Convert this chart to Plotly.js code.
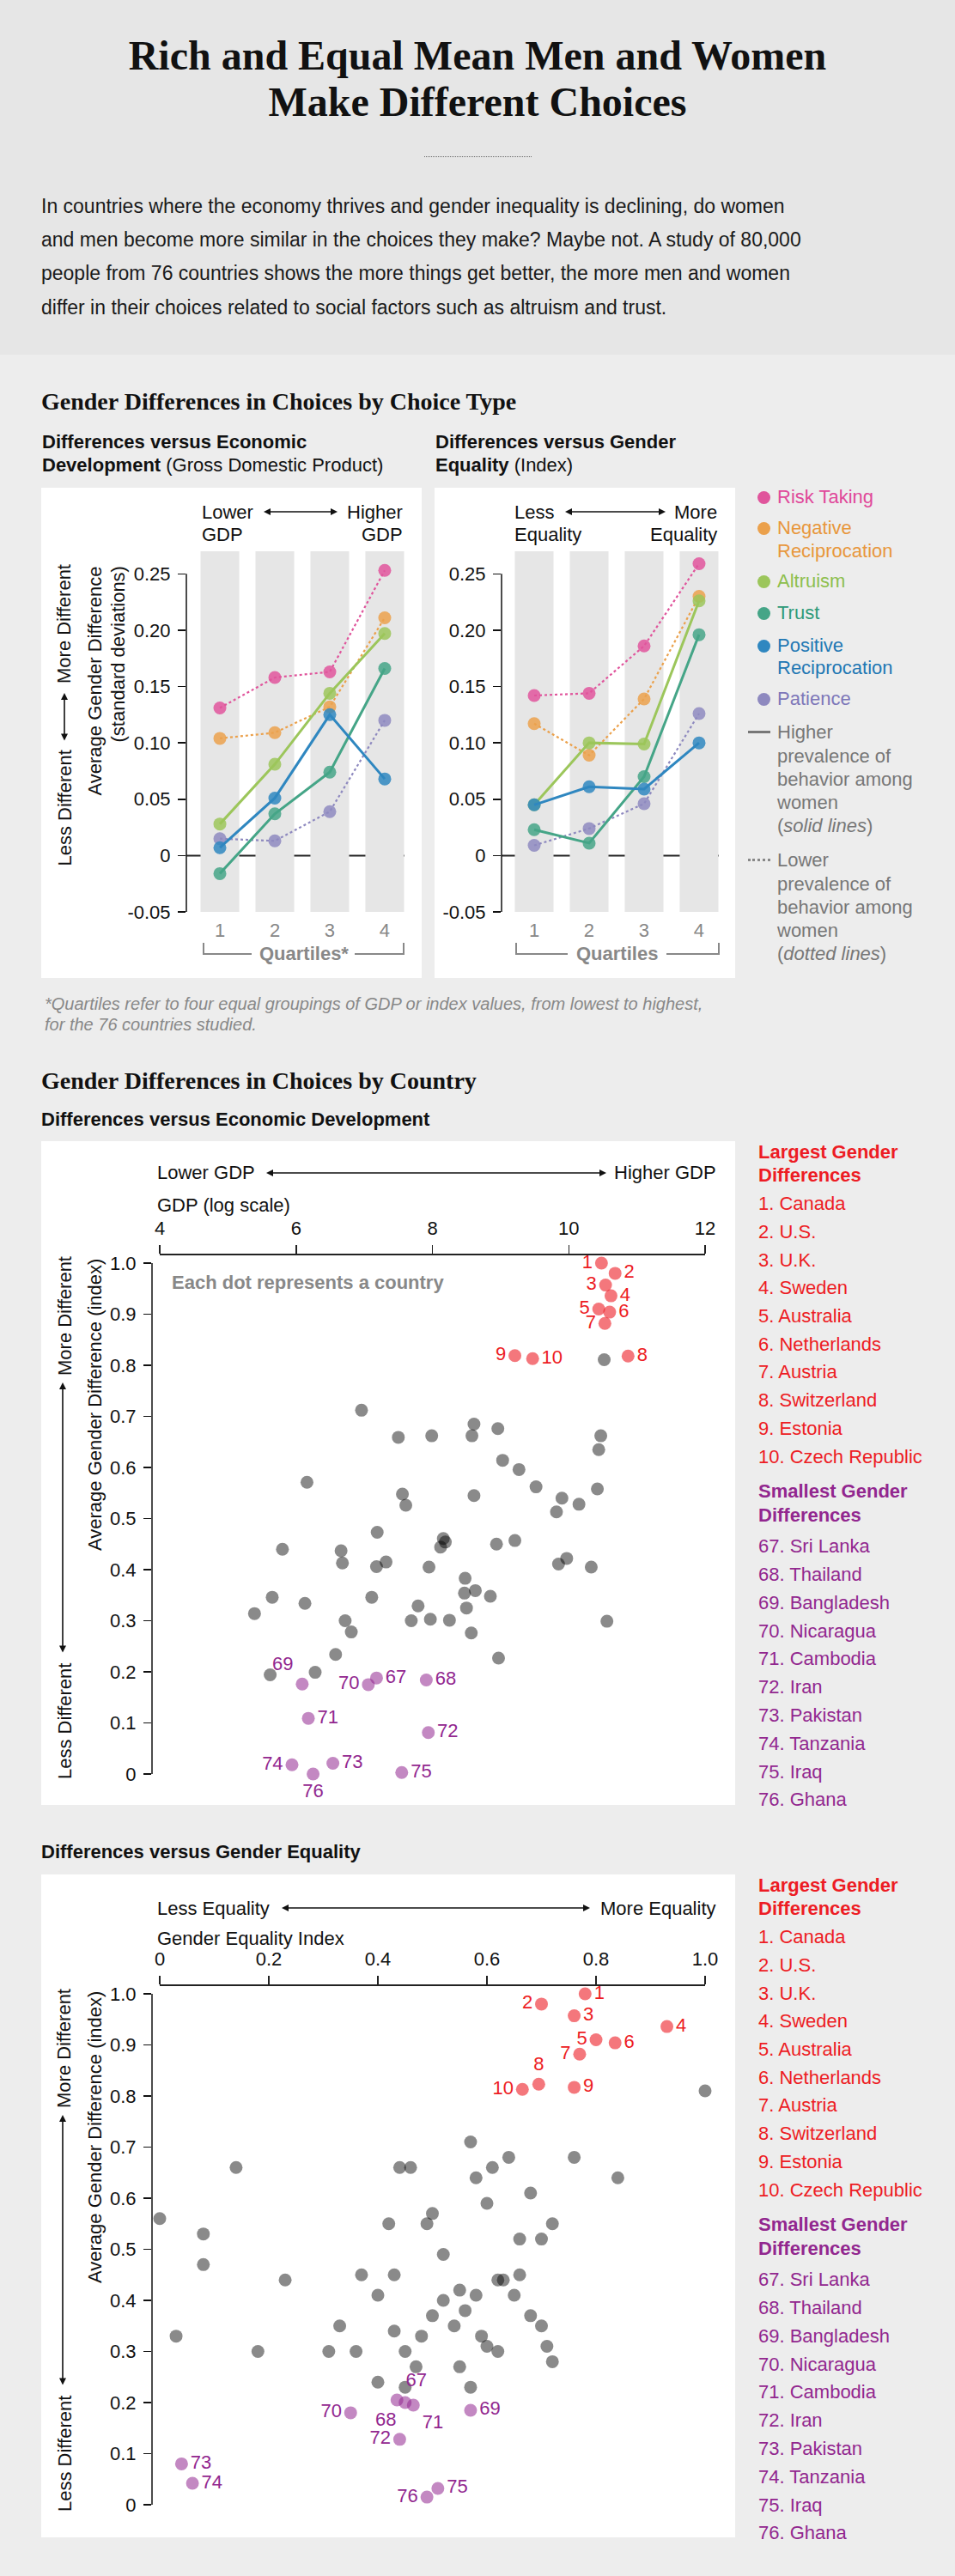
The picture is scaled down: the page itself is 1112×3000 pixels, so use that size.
<!DOCTYPE html>
<html>
<head>
<meta charset="utf-8">
<script src="https://cdn.plot.ly/plotly-3.0.1.min.js"></script>
<style>
html,body{margin:0;padding:0;}
body{width:1112px;height:3000px;background:#ededed;position:relative;overflow:hidden;font-family:"Liberation Sans",Arial,sans-serif;}
.abs{position:absolute;white-space:nowrap;}
.chart{position:absolute;}
</style>
</head>
<body>
<div class="abs" style="left:0;top:0;width:1112px;height:413px;background:#e6e6e6"></div>
<div class="abs" style="left:494px;top:182px;width:125px;height:0;border-top:1px dotted #666"></div>
<div id="q1" class="chart"></div>
<div id="q2" class="chart"></div>
<div id="s1" class="chart"></div>
<div id="s2" class="chart"></div>
<script>
// ================= DATA =================
const quartiles = [1, 2, 3, 4];
const quartileTickText = ['1', '2', '3', '4'];
const choiceTypes = ['Risk Taking', 'Negative Reciprocation', 'Altruism', 'Trust', 'Positive Reciprocation', 'Patience'];

// Differences versus Economic Development (GDP quartiles)
const gdpRiskTaking = [0.131, 0.158, 0.163, 0.253];
const gdpNegativeReciprocation = [0.104, 0.109, 0.132, 0.211];
const gdpAltruism = [0.028, 0.081, 0.144, 0.197];
const gdpTrust = [-0.016, 0.037, 0.074, 0.166];
const gdpPositiveReciprocation = [0.007, 0.051, 0.125, 0.068];
const gdpPatience = [0.015, 0.013, 0.039, 0.120];

// Differences versus Gender Equality (index quartiles)
const eqRiskTaking = [0.142, 0.144, 0.186, 0.259];
const eqNegativeReciprocation = [0.117, 0.089, 0.139, 0.230];
const eqAltruism = [0.045, 0.100, 0.099, 0.226];
const eqTrust = [0.023, 0.011, 0.070, 0.196];
const eqPositiveReciprocation = [0.045, 0.061, 0.059, 0.100];
const eqPatience = [0.009, 0.024, 0.046, 0.126];

const quartileYTicks = [-0.05, 0, 0.05, 0.10, 0.15, 0.20, 0.25];
const quartileYTickText = ['-0.05', '0', '0.05', '0.10', '0.15', '0.20', '0.25'];

const gdpTicks = [4, 6, 8, 10, 12];
const gdpTickText = ['4', '6', '8', '10', '12'];
const equalityTicks = [0, 0.2, 0.4, 0.6, 0.8, 1.0];
const equalityTickText = ['0', '0.2', '0.4', '0.6', '0.8', '1.0'];
const indexTicks = [0, 0.1, 0.2, 0.3, 0.4, 0.5, 0.6, 0.7, 0.8, 0.9, 1.0];
const indexTickText = ['0', '0.1', '0.2', '0.3', '0.4', '0.5', '0.6', '0.7', '0.8', '0.9', '1.0'];

const largestRanks = ['1', '2', '3', '4', '5', '6', '7', '8', '9', '10'];
const largestCountries = ['Canada', 'U.S.', 'U.K.', 'Sweden', 'Australia', 'Netherlands', 'Austria', 'Switzerland', 'Estonia', 'Czech Republic'];
const smallestRanks = ['67', '68', '69', '70', '71', '72', '73', '74', '75', '76'];
const smallestCountries = ['Sri Lanka', 'Thailand', 'Bangladesh', 'Nicaragua', 'Cambodia', 'Iran', 'Pakistan', 'Tanzania', 'Iraq', 'Ghana'];

// Country scatter: GDP (log scale) vs average gender difference
const gdpLargestX = [10.48, 10.68, 10.54, 10.62, 10.44, 10.60, 10.53, 10.87, 9.21, 9.47];
const gdpLargestY = [1.000, 0.980, 0.957, 0.936, 0.910, 0.904, 0.882, 0.818, 0.819, 0.813];
const gdpSmallestX = [7.18, 7.91, 6.09, 7.06, 6.18, 7.94, 6.54, 5.94, 7.55, 6.25];
const gdpSmallestY = [0.188, 0.184, 0.176, 0.175, 0.109, 0.081, 0.021, 0.018, 0.003, 0.000];
const gdpOtherX = [7.99, 8.61, 8.58, 8.96, 10.47, 10.44, 9.03, 9.27, 9.52, 9.90, 10.15, 9.82, 10.42, 8.61, 10.52,
  6.96, 7.50, 6.16, 7.56, 7.61,
  7.19, 5.80, 6.66, 6.68, 7.18, 7.32, 8.16, 8.19, 8.12, 7.95, 5.39, 5.65, 6.13, 7.11, 7.79, 6.72, 6.81, 7.69, 7.97, 8.25, 6.58, 5.62, 6.28,
  8.94, 9.21, 9.85, 9.97, 10.33, 8.48, 8.47, 8.63, 8.85, 8.50, 8.57, 8.97, 10.56];
const gdpOtherY = [0.662, 0.685, 0.662, 0.676, 0.662, 0.635, 0.614, 0.596, 0.562, 0.540, 0.528, 0.513, 0.558, 0.545, 0.811,
  0.712, 0.659, 0.571, 0.548, 0.526,
  0.473, 0.440, 0.437, 0.413, 0.406, 0.415, 0.461, 0.454, 0.444, 0.405, 0.314, 0.346, 0.334, 0.346, 0.329, 0.300, 0.278, 0.300, 0.303, 0.301, 0.234, 0.194, 0.199,
  0.450, 0.457, 0.411, 0.422, 0.405, 0.383, 0.354, 0.359, 0.348, 0.325, 0.276, 0.227, 0.299];

// Country scatter: gender equality index vs average gender difference
const eqLargestX = [0.78, 0.70, 0.76, 0.93, 0.80, 0.835, 0.77, 0.695, 0.76, 0.665];
const eqLargestY = [1.000, 0.980, 0.957, 0.936, 0.910, 0.904, 0.882, 0.823, 0.817, 0.813];
const eqSmallestX = [0.435, 0.45, 0.57, 0.35, 0.465, 0.44, 0.04, 0.06, 0.51, 0.49];
const eqSmallestY = [0.205, 0.200, 0.185, 0.180, 0.195, 0.128, 0.080, 0.042, 0.032, 0.015];
const eqOtherX = [0.00, 0.14, 0.08, 0.08, 0.03, 0.18, 0.23, 0.37, 0.40, 0.42, 0.44, 0.46, 0.49, 0.50, 0.52, 0.55, 0.57, 0.58, 0.60, 0.61,
  0.64, 0.66, 0.68, 0.70, 0.72, 0.76, 0.84, 0.33, 0.31, 0.36, 0.43, 0.45, 0.47, 0.48, 0.50, 0.52, 0.54, 0.56, 0.58, 0.59,
  0.60, 0.62, 0.63, 0.65, 0.68, 0.70, 0.72, 0.71, 0.45, 0.40, 0.55, 0.57, 0.62, 0.66, 0.43, 1.00];
const eqOtherY = [0.56, 0.66, 0.53, 0.47, 0.33, 0.30, 0.44, 0.45, 0.41, 0.55, 0.66, 0.66, 0.55, 0.57, 0.49, 0.42, 0.71, 0.64, 0.59, 0.66,
  0.68, 0.52, 0.61, 0.52, 0.55, 0.68, 0.64, 0.35, 0.30, 0.30, 0.34, 0.30, 0.27, 0.33, 0.37, 0.40, 0.35, 0.38, 0.41, 0.33,
  0.31, 0.30, 0.44, 0.41, 0.37, 0.35, 0.28, 0.31, 0.23, 0.24, 0.27, 0.23, 0.44, 0.45, 0.45, 0.81];

// ================= STYLES =================
const FONT = '"Liberation Sans", Arial, sans-serif';
const SERIF = '"Liberation Serif", "Times New Roman", serif';
const choiceColors = ['#e0559c', '#eba14c', '#9cc65b', '#45a587', '#2f87c0', '#8e89bf'];
const choiceTextColors = ['#e0489a', '#e8973c', '#8dbf4e', '#2f9a78', '#1f78b4', '#7d77b9'];
const choiceDash = ['dot', 'dot', 'solid', 'solid', 'solid', 'dot'];
const gdpLabelPos = ['middle left', 'middle right', 'middle left', 'middle right', 'middle left', 'middle right', 'middle left', 'middle right', 'middle left', 'middle right'];
const gdpSmallLabelPos = ['middle right', 'middle right', 'top left', 'middle left', 'middle right', 'middle right', 'middle right', 'middle left', 'middle right', 'bottom center'];
const eqLabelPos = ['middle right', 'middle left', 'middle right', 'middle right', 'middle left', 'middle right', 'middle left', 'top center', 'middle right', 'middle left'];
const eqSmallLabelPos = ['top right', 'bottom left', 'middle right', 'middle left', 'bottom right', 'middle left', 'middle right', 'middle right', 'middle right', 'middle left'];
const RED = '#ed1c24', PURPLE = '#92278f';

// ================= HTML TEXT =================
function T(x, center, html, o) {
  o = o || {};
  const fs = o.size || 22;
  const serif = !!o.serif;
  const lh = Math.round(fs * 1.2);
  const asc = serif ? 0.891 : 0.905, desc = serif ? 0.216 : 0.212;
  const baseOff = (lh - (asc + desc) * fs) / 2 + asc * fs;
  const baseline = (o.baseline !== undefined) ? o.baseline : center + 0.358 * fs;
  const d = document.createElement('div');
  d.className = 'abs';
  d.innerHTML = html;
  d.style.fontSize = fs + 'px';
  d.style.lineHeight = lh + 'px';
  d.style.fontFamily = serif ? SERIF : FONT;
  d.style.fontWeight = o.weight || 'normal';
  d.style.fontStyle = o.style || 'normal';
  d.style.color = o.color || '#111';
  d.style.top = (baseline - baseOff) + 'px';
  if (o.anchor === 'center') { d.style.left = x + 'px'; d.style.transform = 'translateX(-50%)'; }
  else if (o.anchor === 'right') { d.style.right = (1112 - x) + 'px'; }
  else d.style.left = x + 'px';
  document.body.appendChild(d);
  return d;
}
function dot(cx, cy, color, dia) {
  const d = document.createElement('div');
  d.className = 'abs';
  d.style.left = (cx - dia / 2) + 'px'; d.style.top = (cy - dia / 2) + 'px';
  d.style.width = dia + 'px'; d.style.height = dia + 'px';
  d.style.borderRadius = '50%'; d.style.background = color;
  document.body.appendChild(d);
}

// Header
T(556, 0, 'Rich and Equal Mean Men and Women', {size: 48, serif: true, weight: 'bold', baseline: 81, anchor: 'center', color: '#111'});
T(556, 0, 'Make Different Choices', {size: 48, serif: true, weight: 'bold', baseline: 135, anchor: 'center', color: '#111'});
const introLines = [
  'In countries where the economy thrives and gender inequality is declining, do women',
  'and men become more similar in the choices they make? Maybe not. A study of 80,000',
  'people from 76 countries shows the more things get better, the more men and women',
  'differ in their choices related to social factors such as altruism and trust.'
];
introLines.forEach((s, i) => T(48, 0, s, {size: 23, baseline: 248 + 39.2 * i, color: '#1a1a1a'}));

// Section 1
T(48, 0, 'Gender Differences in Choices by Choice Type', {size: 28, serif: true, weight: 'bold', baseline: 477});
T(49, 0, '<b>Differences versus Economic</b>', {baseline: 523});
T(49, 0, '<b>Development</b> (Gross Domestic Product)', {baseline: 550});
T(507, 0, '<b>Differences versus Gender</b>', {baseline: 523});
T(507, 0, '<b>Equality</b> (Index)', {baseline: 550});
T(52, 0, '*Quartiles refer to four equal groupings of GDP or index values, from lowest to highest,', {size: 20, style: 'italic', color: '#888', baseline: 1176});
T(52, 0, 'for the 76 countries studied.', {size: 20, style: 'italic', color: '#888', baseline: 1200});

// Legend of choice types
const legendRows = [[579], [615, 642], [677], [714], [752, 778], [814]];
const legendWords = [['Risk Taking'], ['Negative', 'Reciprocation'], ['Altruism'], ['Trust'], ['Positive', 'Reciprocation'], ['Patience']];
legendRows.forEach((rows, i) => {
  dot(889, rows[0], choiceColors[i], 15);
  rows.forEach((cy, j) => T(905, cy, legendWords[i][j], {color: choiceTextColors[i]}));
});
const lineA = document.createElement('div');
lineA.className = 'abs'; lineA.style.cssText += 'left:871px;top:851px;width:26px;height:3px;background:#777;';
document.body.appendChild(lineA);
const lineB = document.createElement('div');
lineB.className = 'abs'; lineB.style.cssText += 'left:871px;top:1000px;width:26px;height:0;border-top:3px dotted #888;';
document.body.appendChild(lineB);
['Higher', 'prevalence of', 'behavior among', 'women', '(<i>solid lines</i>)'].forEach((s, i) => T(905, 853 + 27.3 * i, s, {color: '#777'}));
['Lower', 'prevalence of', 'behavior among', 'women', '(<i>dotted lines</i>)'].forEach((s, i) => T(905, 1002 + 27.3 * i, s, {color: '#777'}));

// Section 2
T(48, 0, 'Gender Differences in Choices by Country', {size: 28, serif: true, weight: 'bold', baseline: 1268});
T(48, 0, '<b>Differences versus Economic Development</b>', {baseline: 1312});
T(48, 0, '<b>Differences versus Gender Equality</b>', {baseline: 2165});

function countryLegend(off) {
  T(883, 1342 + off, '<b>Largest Gender</b>', {color: RED});
  T(883, 1369 + off, '<b>Differences</b>', {color: RED});
  largestCountries.forEach((c, i) => T(883, 1402 + 32.7 * i + off, largestRanks[i] + '. ' + c, {color: RED}));
  T(883, 1737 + off, '<b>Smallest Gender</b>', {color: PURPLE});
  T(883, 1765 + off, '<b>Differences</b>', {color: PURPLE});
  smallestCountries.forEach((c, i) => T(883, 1801 + 32.8 * i + off, smallestRanks[i] + '. ' + c, {color: PURPLE}));
}
countryLegend(0);
countryLegend(854);

// ================= PLOTLY HELPERS =================
const Q1 = {left: 48, top: 568, width: 443, height: 571, x0: 217, x1: 471, y0: 642, y1: 1062};
const Q2 = {left: 506, top: 568, width: 350, height: 571, x0: 584, x1: 837, y0: 642, y1: 1062};
const S1 = {left: 48, top: 1329, width: 808, height: 773, x0: 177, x1: 835, y0: 1461, y1: 2080};
const S2 = {left: 48, top: 2183, width: 808, height: 772, x0: 177, x1: 835, y0: 2312, y1: 2931};
const PX = (b, x) => (x - b.x0) / (b.x1 - b.x0);
const PY = (b, y) => (b.y1 - y) / (b.y1 - b.y0);

function place(id, b) {
  const el = document.getElementById(id);
  el.style.left = b.left + 'px'; el.style.top = b.top + 'px';
  el.style.width = b.width + 'px'; el.style.height = b.height + 'px';
  return el;
}
function baseLayout(b) {
  return {
    width: b.width, height: b.height, autosize: false,
    margin: {l: b.x0 - b.left, r: b.left + b.width - b.x1, t: b.y0 - b.top, b: b.top + b.height - b.y1, pad: 0},
    paper_bgcolor: '#ffffff', plot_bgcolor: '#ffffff', showlegend: false,
    font: {family: FONT, size: 22, color: '#111'}
  };
}
function note(b, x, y, text, o) {
  o = o || {};
  return {xref: 'paper', yref: 'paper', x: PX(b, x), y: PY(b, y), text: text, showarrow: false,
    xanchor: o.xa || 'left', yanchor: 'middle', textangle: o.angle || 0, borderpad: 0,
    font: {family: FONT, size: o.size || 22, color: o.color || '#111'}};
}
function harrow(b, xFrom, xTo, y) {
  return {xref: 'paper', yref: 'paper', x: PX(b, xTo), y: PY(b, y), ax: xFrom - xTo, ay: 0, axref: 'pixel', ayref: 'pixel',
    text: ' ', showarrow: true, arrowhead: 2, startarrowhead: 2, arrowside: 'end+start', arrowsize: 1, startarrowsize: 1,
    arrowwidth: 1.6, arrowcolor: '#111', standoff: 0, startstandoff: 0, font: {size: 2}};
}
function varrow(b, x, yTop, yBottom) {
  return {xref: 'paper', yref: 'paper', x: PX(b, x), y: PY(b, yTop), ax: 0, ay: yBottom - yTop, axref: 'pixel', ayref: 'pixel',
    text: ' ', showarrow: true, arrowhead: 2, startarrowhead: 2, arrowside: 'end+start', arrowsize: 1, startarrowsize: 1,
    arrowwidth: 1.6, arrowcolor: '#111', standoff: 0, startstandoff: 0, font: {size: 2}};
}
function pline(b, xa, ya, xb, yb, color, w) {
  return {type: 'line', xref: 'paper', yref: 'paper', x0: PX(b, xa), y0: PY(b, ya), x1: PX(b, xb), y1: PY(b, yb), line: {color: color, width: w}};
}
const config = {displayModeBar: false, staticPlot: true};

// ================= QUARTILE CHARTS =================
function quartileChart(id, b, xRange, seriesList, extraAnn, bracket) {
  place(id, b);
  const order = [0, 1, 5, 2, 3, 4];
  const traces = order.map(i => ({
    type: 'scatter', mode: 'lines+markers', x: quartiles, y: seriesList[i], name: choiceTypes[i],
    line: {color: choiceColors[i], width: choiceDash[i] === 'dot' ? 2.2 : 3, dash: choiceDash[i]},
    marker: {color: choiceColors[i], size: 15, opacity: 0.85, line: {width: 0}},
    cliponaxis: false, hoverinfo: 'skip'
  }));
  const shapes = quartiles.map(q => ({type: 'rect', xref: 'x', yref: 'y', x0: q - 0.352, x1: q + 0.352, y0: -0.05, y1: 0.27,
    fillcolor: '#e6e6e6', line: {width: 0}, layer: 'below'}));
  shapes.push({type: 'line', xref: 'paper', yref: 'y', x0: 0, x1: 1, y0: 0, y1: 0, line: {color: '#222', width: 2}, layer: 'below'});
  shapes.push({type: 'line', xref: 'paper', yref: 'y', x0: 0, x1: 0, y0: -0.05, y1: 0.25, line: {color: '#111', width: 1.5}});
  bracket.forEach(s => shapes.push(s));
  const layout = Object.assign(baseLayout(b), {
    xaxis: {range: xRange, tickvals: quartiles, ticktext: quartileTickText, ticks: '', showline: false, showgrid: false,
      zeroline: false, tickfont: {size: 22, color: '#888'}, ticklabelstandoff: 6, fixedrange: true},
    yaxis: {range: [-0.05, 0.27], tickvals: quartileYTicks, ticktext: quartileYTickText, ticks: 'outside', ticklen: 9,
      tickwidth: 1.5, tickcolor: '#111', showline: false, showgrid: false, zeroline: false,
      tickfont: {size: 22, color: '#111'}, ticklabelstandoff: 4, fixedrange: true},
    shapes: shapes, annotations: extraAnn
  });
  Plotly.newPlot(id, traces, layout, config);
}

quartileChart('q1', Q1, [0.39, 4.36],
  [gdpRiskTaking, gdpNegativeReciprocation, gdpAltruism, gdpTrust, gdpPositiveReciprocation, gdpPatience],
  [note(Q1, 234, 597, 'Lower'), note(Q1, 234, 623, 'GDP'),
   note(Q1, 470, 597, 'Higher', {xa: 'right'}), note(Q1, 470, 623, 'GDP', {xa: 'right'}),
   harrow(Q1, 305, 393, 596),
   note(Q1, 354, 1110, '<b>Quartiles*</b>', {xa: 'center', color: '#888'}),
   note(Q1, 75, 727, 'More Different', {xa: 'center', angle: -90}),
   varrow(Q1, 75, 807, 865),
   note(Q1, 75, 941.5, 'Less Different', {xa: 'center', angle: -90}),
   note(Q1, 110, 793.5, 'Average Gender Difference', {xa: 'center', angle: -90}),
   note(Q1, 137, 762.5, '(standard deviations)', {xa: 'center', angle: -90})],
  [pline(Q1, 237, 1098, 237, 1111, '#888', 2), pline(Q1, 236, 1111, 293, 1111, '#888', 2),
   pline(Q1, 413, 1111, 471, 1111, '#888', 2), pline(Q1, 470, 1111, 470, 1098, '#888', 2)]);

quartileChart('q2', Q2, [0.406, 4.36],
  [eqRiskTaking, eqNegativeReciprocation, eqAltruism, eqTrust, eqPositiveReciprocation, eqPatience],
  [note(Q2, 598, 597, 'Less'), note(Q2, 598, 623, 'Equality'),
   note(Q2, 836, 597, 'More', {xa: 'right'}), note(Q2, 836, 623, 'Equality', {xa: 'right'}),
   harrow(Q2, 656, 775, 596),
   note(Q2, 718, 1110, '<b>Quartiles</b>', {xa: 'center', color: '#888'})],
  [pline(Q2, 601, 1098, 601, 1111, '#888', 2), pline(Q2, 600, 1111, 661, 1111, '#888', 2),
   pline(Q2, 776, 1111, 838, 1111, '#888', 2), pline(Q2, 837, 1111, 837, 1098, '#888', 2)]);

// ================= COUNTRY SCATTERS =================
function countryChart(id, b, xRange, xTicks, xTickText, otherX, otherY, bigX, bigY, bigPos, smallX, smallY, smallPos, ann) {
  place(id, b);
  const traces = [
    {type: 'scatter', mode: 'markers', x: otherX, y: otherY, marker: {size: 15, color: 'rgba(0,0,0,0.46)', line: {width: 0}}, hoverinfo: 'skip', cliponaxis: false},
    {type: 'scatter', mode: 'markers+text', x: bigX, y: bigY, text: largestRanks, textposition: bigPos,
      textfont: {family: FONT, size: 22, color: RED}, marker: {size: 15, color: 'rgba(237,28,36,0.6)', line: {width: 0}}, hoverinfo: 'skip', cliponaxis: false},
    {type: 'scatter', mode: 'markers+text', x: smallX, y: smallY, text: smallestRanks, textposition: smallPos,
      textfont: {family: FONT, size: 22, color: PURPLE}, marker: {size: 15, color: 'rgba(146,39,143,0.55)', line: {width: 0}}, hoverinfo: 'skip', cliponaxis: false}
  ];
  const shapes = [
    {type: 'line', xref: 'x', yref: 'paper', x0: xTicks[0], x1: xTicks[xTicks.length - 1], y0: 1, y1: 1, line: {color: '#222', width: 2}},
    {type: 'line', xref: 'paper', yref: 'y', x0: 0, x1: 0, y0: 0, y1: 1.0, line: {color: '#111', width: 1.5}}
  ];
  const layout = Object.assign(baseLayout(b), {
    xaxis: {range: xRange, side: 'top', tickvals: xTicks, ticktext: xTickText, ticks: 'outside', ticklen: 10, tickwidth: 1.5,
      tickcolor: '#222', showline: false, showgrid: false, zeroline: false, tickfont: {size: 22, color: '#111'}, ticklabelstandoff: 3, fixedrange: true},
    yaxis: {range: [-14 / 595, 605 / 595], tickvals: indexTicks, ticktext: indexTickText, ticks: 'outside', ticklen: 9, tickwidth: 1.5,
      tickcolor: '#111', showline: false, showgrid: false, zeroline: false, tickfont: {size: 22, color: '#111'}, ticklabelstandoff: 4, fixedrange: true},
    shapes: shapes, annotations: ann
  });
  Plotly.newPlot(id, traces, layout, config);
}

countryChart('s1', S1, [4 - 9 / 79.375, 12 + 14 / 79.375], gdpTicks, gdpTickText,
  gdpOtherX, gdpOtherY, gdpLargestX, gdpLargestY, gdpLabelPos, gdpSmallestX, gdpSmallestY, gdpSmallLabelPos,
  [note(S1, 182, 1366, 'Lower GDP'), harrow(S1, 308, 706, 1366), note(S1, 835, 1366, 'Higher GDP', {xa: 'right'}),
   note(S1, 182, 1403, 'GDP (log scale)'),
   note(S1, 199, 1493, '<b>Each dot represents a country</b>', {color: '#888'}),
   note(S1, 75, 1533, 'More Different', {xa: 'center', angle: -90}),
   varrow(S1, 73, 1610, 1927),
   note(S1, 75, 2005, 'Less Different', {xa: 'center', angle: -90}),
   note(S1, 110, 1636, 'Average Gender Difference (index)', {xa: 'center', angle: -90})]);

countryChart('s2', S2, [-9 / 635, 1 + 14 / 635], equalityTicks, equalityTickText,
  eqOtherX, eqOtherY, eqLargestX, eqLargestY, eqLabelPos, eqSmallestX, eqSmallestY, eqSmallLabelPos,
  [note(S2, 182, 2222, 'Less Equality'), harrow(S2, 326, 687, 2222), note(S2, 835, 2222, 'More Equality', {xa: 'right'}),
   note(S2, 182, 2257, 'Gender Equality Index'),
   note(S2, 75, 2386, 'More Different', {xa: 'center', angle: -90}),
   varrow(S2, 73, 2463, 2780),
   note(S2, 75, 2858, 'Less Different', {xa: 'center', angle: -90}),
   note(S2, 110, 2489, 'Average Gender Difference (index)', {xa: 'center', angle: -90})]);
</script>
</body>
</html>
